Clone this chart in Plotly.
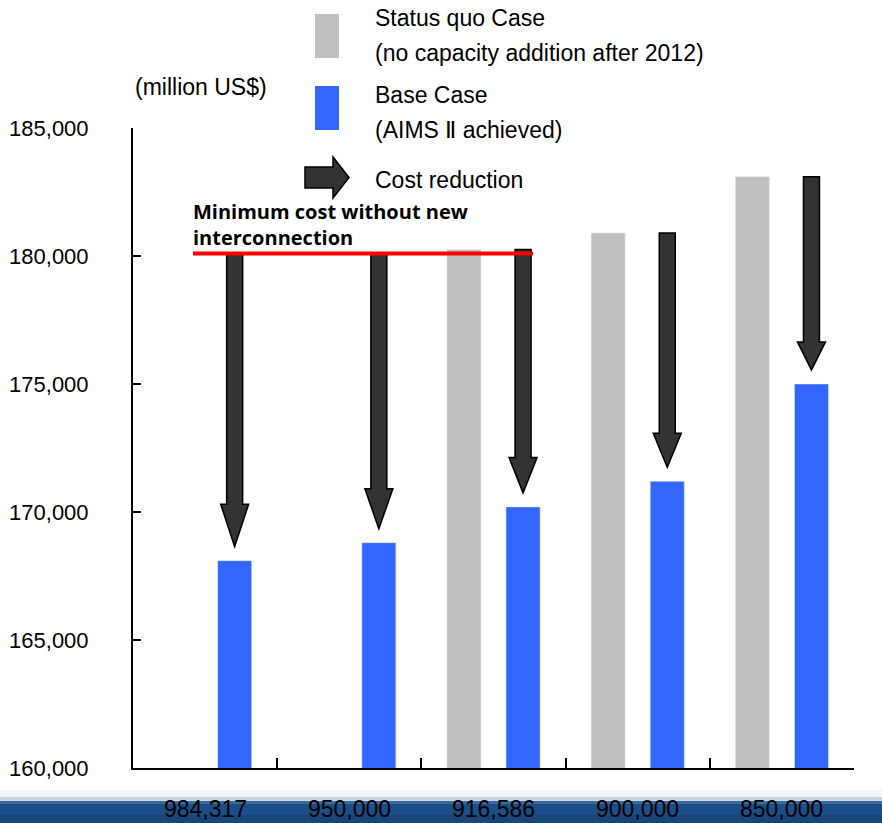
import plotly.graph_objects as go

# ---------------- data ----------------
categories = ["984,317", "950,000", "916,586", "900,000", "850,000"]
status_quo = [None, None, 180250, 180900, 183100]   # gray bars
base_case = [168100, 168800, 170200, 171200, 175000]  # blue bars
min_cost_no_interconnection = 180100
y_ticks = [160000, 165000, 170000, 175000, 180000, 185000]

legend_labels = ["Status quo Case", "(no capacity addition after 2012)",
                 "Base Case", "(AIMS Ⅱ achieved)", "Cost reduction"]
y_unit_label = "(million US$)"
min_cost_label = "Minimum cost without new<br>interconnection"

# ---------------- styling / layout constants ----------------
W, H = 882, 823
L, R, T, B = 133, 854, 128, 768      # plot area in pixels
GRAY = "#C0C0C0"
BLUE = "#3366FF"
ARROW_FILL = "#333333"
FONT = "Liberation Sans, Arial, sans-serif"

BARGAP = 0.18
BARGROUPGAP = 0.424
slot = (1 - BARGAP) / 2
blue_offset = slot / 2

def px(xp):
    return (xp - L) / (R - L)

def py(yp):
    return (B - yp) / (B - T)

x_idx = list(range(len(categories)))

fig = go.Figure()
fig.add_trace(go.Bar(x=x_idx, y=status_quo, marker_color=GRAY, name=legend_labels[0]))
fig.add_trace(go.Bar(x=x_idx, y=base_case, marker_color=BLUE, name=legend_labels[2]))

ymin, ymax = y_ticks[0], y_ticks[-1]
y_per_px = (ymax - ymin) / (B - T)
x_per_px = 1.0 / ((R - L) / len(categories))

shapes = []

# bottom decorative band
band = [(790, 797, "#f4f7fa"), (797, 801, "#c9d6e4"), (801, 804, "#3d6a9c"),
        (804, 815, "#1b4f8a"), (815, 823, "#174679")]
for y0, y1, c in band:
    shapes.append(dict(type="rect", xref="paper", yref="paper",
                       x0=px(0), x1=px(W), y0=py(y1), y1=py(y0),
                       fillcolor=c, line_width=0, layer="below"))

# cost-reduction arrows (down), from status quo (or min-cost line) to base case
shaft_half = 8 * x_per_px
head_half = 14 * x_per_px
gap = 14 * y_per_px
for i, b in enumerate(base_case):
    start = status_quo[i] if status_quo[i] is not None else min_cost_no_interconnection
    tip = b + gap
    length = start - tip
    head_top = tip + 0.145 * length
    xc = i + blue_offset
    path = (f"M {xc-shaft_half},{start} L {xc+shaft_half},{start} "
            f"L {xc+shaft_half},{head_top} L {xc+head_half},{head_top} "
            f"L {xc},{tip} L {xc-head_half},{head_top} "
            f"L {xc-shaft_half},{head_top} Z")
    shapes.append(dict(type="path", xref="x", yref="y", path=path,
                       fillcolor=ARROW_FILL, line=dict(color="black", width=1.5)))

# red minimum-cost line
line_x0 = -0.5 + (193 - L) * x_per_px
line_x1 = -0.5 + (533 - L) * x_per_px
shapes.append(dict(type="line", xref="x", yref="y", x0=line_x0, x1=line_x1,
                   y0=min_cost_no_interconnection, y1=min_cost_no_interconnection,
                   line=dict(color="#FF0000", width=4)))

# legend swatches
shapes.append(dict(type="rect", xref="paper", yref="paper", x0=px(315), x1=px(339),
                   y0=py(58), y1=py(14), fillcolor=GRAY, line_width=0))
shapes.append(dict(type="rect", xref="paper", yref="paper", x0=px(315), x1=px(339),
                   y0=py(130), y1=py(86), fillcolor=BLUE, line_width=0))
pts = [(305, 167), (333, 167), (333, 157), (349, 177.5), (333, 198), (333, 188), (305, 188)]
legend_arrow = "M " + " L ".join(f"{px(a)},{py(b)}" for a, b in pts) + " Z"
shapes.append(dict(type="path", xref="paper", yref="paper", path=legend_arrow,
                   fillcolor=ARROW_FILL, line=dict(color="black", width=1.5)))

annotations = []
for (txt, yc) in zip(legend_labels, [18, 53, 95, 130, 180]):
    annotations.append(dict(text=txt, xref="paper", yref="paper", x=px(373), y=py(yc),
                            xanchor="left", yanchor="middle", showarrow=False,
                            font=dict(family=FONT, size=23, color="black")))
annotations.append(dict(text=y_unit_label, xref="paper", yref="paper", x=px(133), y=py(87),
                        xanchor="left", yanchor="middle", showarrow=False,
                        font=dict(family=FONT, size=23, color="black")))
annotations.append(dict(text=min_cost_label, xref="x", yref="y", x=line_x0,
                        y=min_cost_no_interconnection, xanchor="left", yanchor="bottom",
                        yshift=0, xshift=-2, align="left", showarrow=False,
                        font=dict(family="Open Sans, sans-serif", size=20, color="black",
                                  weight="bold")))
for i, c in enumerate(categories):
    annotations.append(dict(text=c, xref="x", yref="paper", x=i, y=py(809),
                            xanchor="center", yanchor="middle", showarrow=False,
                            font=dict(family=FONT, size=23, color="black")))

fig.update_layout(
    width=W, height=H,
    margin=dict(l=L, r=W - R, t=T, b=H - B, pad=0, autoexpand=False),
    paper_bgcolor="white", plot_bgcolor="rgba(0,0,0,0)",
    barmode="group", bargap=BARGAP, bargroupgap=BARGROUPGAP,
    showlegend=False,
    shapes=shapes, annotations=annotations,
    xaxis=dict(range=[-0.5, len(categories) - 0.5], automargin=False,
               tickvals=[i + 0.5 for i in x_idx], showticklabels=False,
               ticks="inside", ticklen=10, tickwidth=1.5, tickcolor="black",
               showline=True, linecolor="black", linewidth=2,
               showgrid=False, zeroline=False),
    yaxis=dict(range=[ymin, ymax], tickvals=y_ticks, tickformat=",", automargin=False,
               ticks="inside", ticklen=8, tickwidth=2, tickcolor="black",
               showline=True, linecolor="black", linewidth=2,
               showgrid=False, zeroline=False, ticklabelstandoff=38,
               tickfont=dict(family=FONT, size=22, color="black")),
)

fig.write_html("out.html")
